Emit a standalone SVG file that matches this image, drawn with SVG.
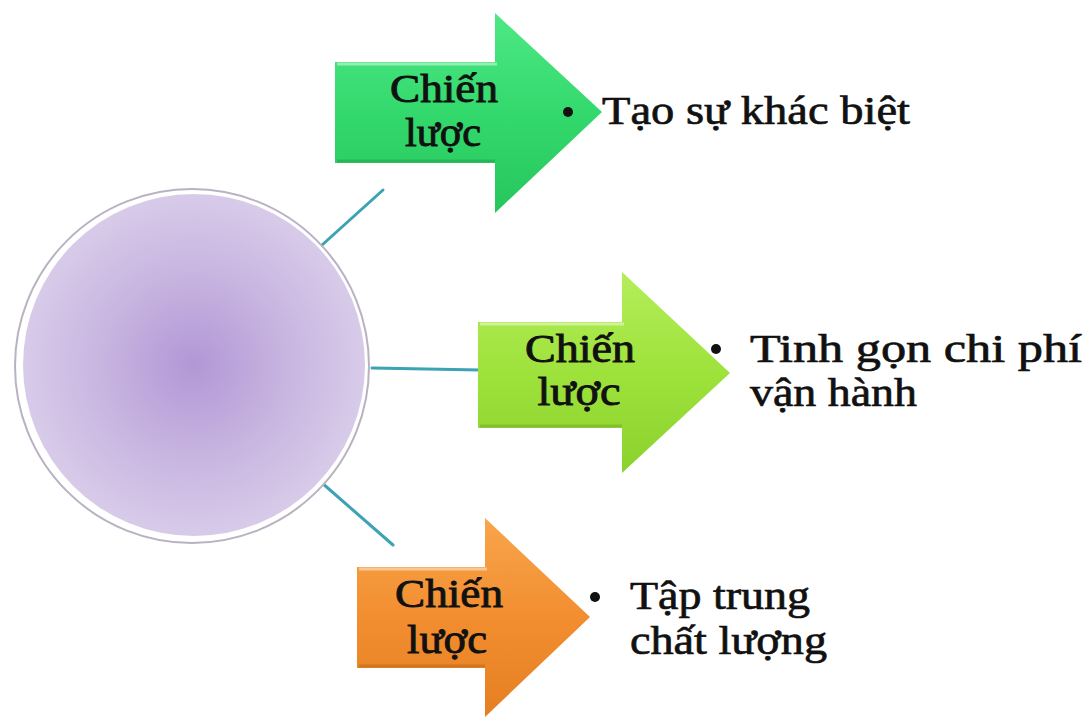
<svg xmlns="http://www.w3.org/2000/svg" width="1085" height="717" viewBox="0 0 1085 717">
<defs>
  <radialGradient id="gCircle" cx="0.5" cy="0.5" r="0.5">
    <stop offset="0" stop-color="#b297d6"/>
    <stop offset="0.55" stop-color="#c8b5e0"/>
    <stop offset="1" stop-color="#d8cbe9"/>
  </radialGradient>
  <linearGradient id="gGreen" x1="0" y1="0" x2="0" y2="1">
    <stop offset="0" stop-color="#4ee886"/>
    <stop offset="0.5" stop-color="#33d96c"/>
    <stop offset="1" stop-color="#27c65c"/>
  </linearGradient>
  <linearGradient id="gLime" x1="0" y1="0" x2="0" y2="1">
    <stop offset="0" stop-color="#b4ee5a"/>
    <stop offset="0.5" stop-color="#9ee23c"/>
    <stop offset="1" stop-color="#8cd22c"/>
  </linearGradient>
  <linearGradient id="gOrange" x1="0" y1="0" x2="0" y2="1">
    <stop offset="0" stop-color="#f8a54c"/>
    <stop offset="0.5" stop-color="#f28e30"/>
    <stop offset="1" stop-color="#e57f22"/>
  </linearGradient>
</defs>
<style>
  .conn { stroke: #3ba3b3; stroke-width: 3; fill: none; stroke-linecap: round; }
  .lbl { font-family: "Liberation Serif", "Times New Roman", serif; font-size: 41px; fill: #111; stroke: #111; stroke-width: 0.9; text-anchor: middle; }
  .txt { font-family: "Liberation Serif", "Times New Roman", serif; font-size: 41px; fill: #111; stroke: #111; stroke-width: 0.7; }
  .hl { fill: none; stroke: #ffffff; stroke-opacity: 0.45; stroke-width: 3; }
  .sh { fill: none; stroke: #000; stroke-opacity: 0.12; stroke-width: 3; }
  .dot { fill: #111; }
</style>
<rect width="1085" height="717" fill="#ffffff"/>

<g id="connectors">
  <line class="conn" x1="322" y1="245" x2="383" y2="190"/>
  <line class="conn" x1="372" y1="368" x2="480" y2="370"/>
  <line class="conn" x1="322" y1="483" x2="393" y2="545"/>
</g>

<g id="center-circle">
  <circle cx="192" cy="366" r="177" fill="#ffffff" stroke="#b9b2c2" stroke-width="2"/>
  <circle cx="194" cy="365" r="171" fill="url(#gCircle)"/>
</g>

<g id="arrow-top">
  <polygon points="335,62 495,62 495,13 602,112 495,213 495,163 335,163" fill="url(#gGreen)"/>
  <path class="hl" d="M 337 64 L 497 64"/>
  <path class="sh" d="M 337 161 L 495 161"/>
  <text class="lbl" x="444" y="102" textLength="108" lengthAdjust="spacingAndGlyphs">Chiến</text>
  <text class="lbl" x="443" y="146" textLength="76" lengthAdjust="spacingAndGlyphs">lược</text>
</g>

<g id="arrow-middle">
  <polygon points="478,322 622,322 622,272 730,373 622,473 622,428 478,428" fill="url(#gLime)"/>
  <path class="hl" d="M 480 324 L 624 324"/>
  <path class="sh" d="M 480 426 L 622 426"/>
  <text class="lbl" x="580" y="362" textLength="110" lengthAdjust="spacingAndGlyphs">Chiến</text>
  <text class="lbl" x="579" y="405" textLength="83" lengthAdjust="spacingAndGlyphs">lược</text>
</g>

<g id="arrow-bottom">
  <polygon points="357,567 485,567 485,518 590,617 485,717 485,668 357,668" fill="url(#gOrange)"/>
  <path class="hl" d="M 359 569 L 487 569"/>
  <path class="sh" d="M 359 666 L 485 666"/>
  <text class="lbl" x="449" y="607" textLength="108" lengthAdjust="spacingAndGlyphs">Chiến</text>
  <text class="lbl" x="447" y="653" textLength="80" lengthAdjust="spacingAndGlyphs">lược</text>
</g>

<g id="text-top">
  <circle class="dot" cx="568" cy="112" r="5"/>
  <text class="txt" x="602" y="124" textLength="308" lengthAdjust="spacingAndGlyphs">Tạo sự khác biệt</text>
</g>

<g id="text-middle">
  <circle class="dot" cx="716" cy="349" r="5"/>
  <text class="txt" x="750" y="362" textLength="332" lengthAdjust="spacingAndGlyphs">Tinh gọn chi phí</text>
  <text class="txt" x="750" y="406" textLength="167" lengthAdjust="spacingAndGlyphs">vận hành</text>
</g>

<g id="text-bottom">
  <circle class="dot" cx="595" cy="597" r="5"/>
  <text class="txt" x="630" y="609" textLength="180" lengthAdjust="spacingAndGlyphs">Tập trung</text>
  <text class="txt" x="630" y="654" textLength="197" lengthAdjust="spacingAndGlyphs">chất lượng</text>
</g>
</svg>
